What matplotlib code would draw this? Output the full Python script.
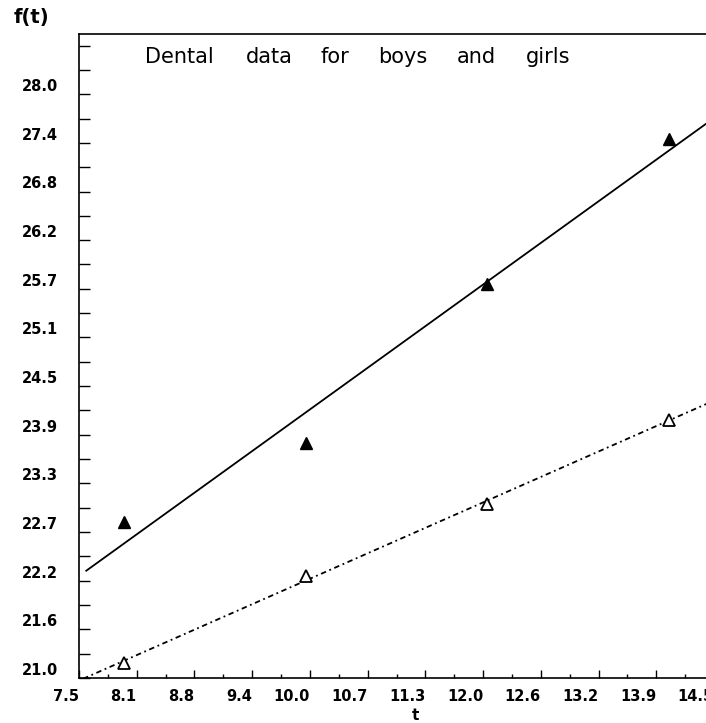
import numpy as np
import matplotlib.pyplot as plt
from matplotlib.ticker import AutoMinorLocator

# mean dental distance by age (Potthoff & Roy)
ages = [8, 10, 12, 14]
boys = [22.875, 23.8125, 25.71875, 27.46875]
girls = [21.1818, 22.2273, 23.0909, 24.0909]

xticks = np.linspace(7.5, 14.5, 12)
xlabels = ['7.5', '8.1', '8.8', '9.4', '10.0', '10.7', '11.3', '12.0', '12.6', '13.2', '13.9', '14.5']
yticks = np.linspace(21.0, 28.0, 13)
ylabels = ['21.0', '21.6', '22.2', '22.7', '23.3', '23.9', '24.5', '25.1', '25.7', '26.2', '26.8', '27.4', '28.0']

title_words = ['Dental', 'data', 'for', 'boys', 'and', 'girls']
title_x = [179, 269, 335, 403, 476, 548]  # word centres in pixels

fig = plt.figure(figsize=(7.06, 7.23), dpi=100)
ax = fig.add_axes([79 / 706, 45 / 723, 635 / 706, 644 / 723])

# straight-line fits through the means
b_fit = np.polyfit(ages, boys, 1)
g_fit = np.polyfit(ages, girls, 1)
tb = np.array([7.58, 14.6])
tg = np.array([7.4, 14.6])
ax.plot(tb, np.polyval(b_fit, tb), color='black', lw=1.3)
ax.plot(tg, np.polyval(g_fit, tg), color='black', lw=1.3, dashes=(3, 2, 1, 2))

ax.plot(ages, boys, linestyle='none', marker='^', ms=8, color='black')
ax.plot(ages, girls, linestyle='none', marker='^', ms=8,
        markerfacecolor='white', markeredgecolor='black', markeredgewidth=1.3)

ax.set_xlim(7.5, 14.5)
ax.set_ylim(21.0, 21.0 + 644 / 83.4)

ax.set_xticks(xticks)
ax.set_xticklabels(xlabels)
ax.set_yticks(yticks)
ax.set_yticklabels(ylabels)
ax.xaxis.set_minor_locator(AutoMinorLocator(2))
ax.yaxis.set_minor_locator(AutoMinorLocator(2))
ax.tick_params(which='both', direction='in', width=1, labelsize=10.5)
ax.tick_params(axis='x', which='major', length=6, pad=8)
ax.tick_params(axis='x', which='minor', length=3)
ax.tick_params(axis='y', which='both', length=8, pad=15)
for lbl in ax.get_xticklabels():
    lbl.set_ha('right')
    lbl.set_fontweight('bold')
for lbl in ax.get_yticklabels():
    lbl.set_va('bottom')
    lbl.set_fontweight('bold')

for side in ['left', 'bottom', 'top']:
    ax.spines[side].set_linewidth(1.2)
ax.spines['right'].set_visible(False)

for word, px in zip(title_words, title_x):
    fig.text(px / 706, 1 - 57 / 723, word, fontsize=15, ha='center', va='center')
fig.text(31 / 706, 1 - 18 / 723, 'f(t)', fontsize=14, fontweight='bold', ha='center', va='center')
fig.text(415 / 706, 1 - 716 / 723, 't', fontsize=11, fontweight='bold', ha='center', va='center')

fig.savefig('out.png', dpi=100)
